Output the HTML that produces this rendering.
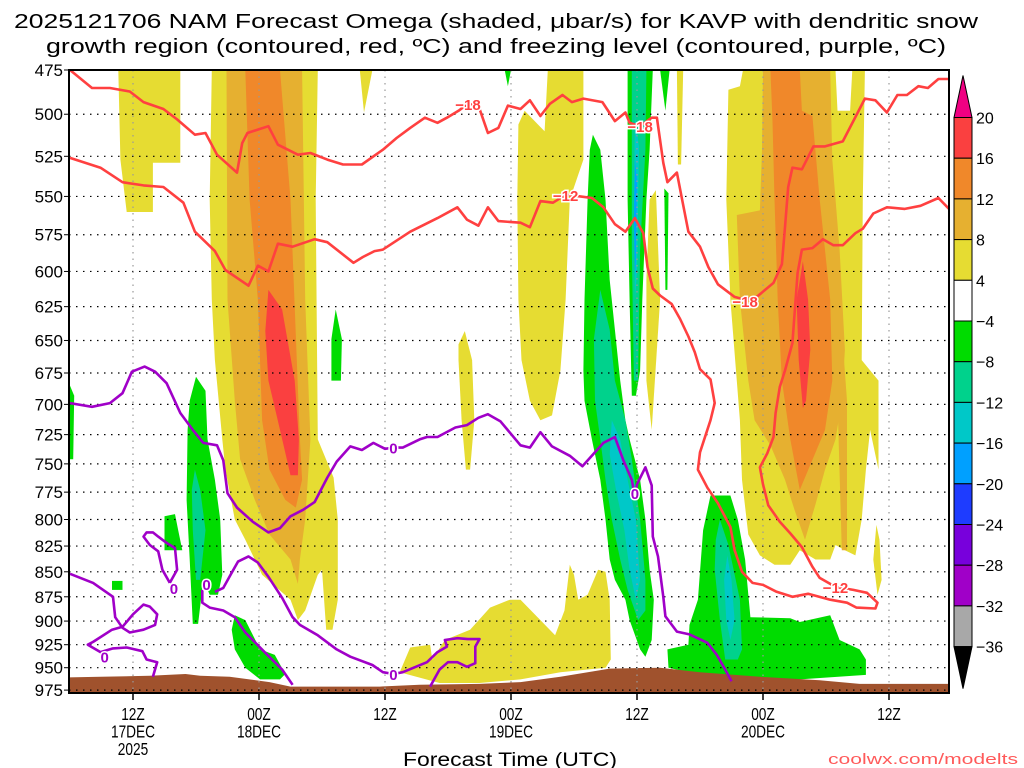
<!DOCTYPE html>
<html><head><meta charset="utf-8"><style>
body{margin:0;background:#fff;}
svg{display:block;font-family:"Liberation Sans",sans-serif;}
</style></head><body>
<svg id="chart" width="1024" height="768" viewBox="0 0 1024 768" xmlns="http://www.w3.org/2000/svg">
<defs><clipPath id="pc"><rect x="69" y="70" width="880" height="623"/></clipPath></defs>
<text x="496" y="28" font-size="20" text-anchor="middle" textLength="964" lengthAdjust="spacingAndGlyphs">2025121706 NAM Forecast Omega (shaded, μbar/s) for KAVP with dendritic snow</text>
<text x="496" y="53" font-size="20" text-anchor="middle" textLength="900" lengthAdjust="spacingAndGlyphs">growth region (contoured, red, ºC) and freezing level (contoured, purple, ºC)</text>
<g id="fills" clip-path="url(#pc)"></g>
<g id="grid"></g>
<g id="lines" clip-path="url(#pc)"></g>
<g id="axes"></g>
<g id="cbar"></g>
<text x="510" y="766" font-size="19" text-anchor="middle" textLength="214" lengthAdjust="spacingAndGlyphs">Forecast Time (UTC)</text>
<text x="1018" y="764" font-size="15" fill="#ff5a5a" text-anchor="end" textLength="190" lengthAdjust="spacingAndGlyphs">coolwx.com/modelts</text>
</svg>
<script>
// ---- data (hour since 06Z 17 Dec, pressure hPa) ----
const pressureTicks=[475,500,525,550,575,600,625,650,675,700,725,750,775,800,825,850,875,900,925,950,975];
const timeTickHours=[6,18,30,42,54,66,78];
const timeTickLabels=[["12Z","17DEC","2025"],["00Z","18DEC"],["12Z"],["00Z","19DEC"],["12Z"],["00Z","20DEC"],["12Z"]];
const cbarLabels=["20","16","12","8","4","−4","−8","−12","−16","−20","−24","−28","−32","−36"];
const cbarColors=["#fa4040","#f0882a","#e6b030","#e6dc32","#ffffff","#00dc00","#00d28c","#00c8c8","#00a0ff","#1e3cff","#7800dc","#a000c8","#a8a8a8"];
const yellowAreas=[
[[4.6,475],[10.5,475],[10.5,529],[7.9,529],[7.9,560],[5.4,560],[4.8,527]],
[[13.5,475],[23.6,475],[23.4,552],[23.6,729],[25.1,762],[25.5,800],[25.5,878],[25,909],[24.4,909],[24,848],[23.6,853],[22.4,889],[21.7,899],[21,878],[18.3,853],[16.7,819],[15.7,800],[14.8,755],[14.5,729],[13.8,665],[13.5,620],[13.3,552]],
[[27.6,475],[28.8,475],[28,499]],
[[37,653],[37.6,643],[38.3,665],[38.5,713],[38.1,755],[37.7,755],[37.3,713],[37,665]],
[[45.5,475],[48.9,475],[48.9,527],[47.6,552],[47.2,620],[46.7,673],[45.9,709],[44.8,713],[43.8,697],[43,665],[42.7,620],[42.6,552],[42.7,506],[43.3,498],[45.2,510]],
[[55.2,552],[55.8,546],[56.2,620],[55.4,721],[54.9,681],[54.9,606]],
[[57.8,475],[58.4,475],[58.2,530],[57.9,530]],
[[31.4,955],[32.4,928],[34.3,925],[34.5,941],[35.7,920],[38.1,909],[40,886],[41.9,878],[42.9,878],[44.8,899],[46.2,915],[47.1,889],[47.6,843],[48,853],[48.4,878],[49.3,873],[50.3,848],[51,850],[51.4,878],[51.5,941],[51,950],[46.7,955],[42.9,963],[39,967],[35.2,967],[33.3,961]],
[[64.1,475],[72.9,475],[73.1,498],[74.3,498],[74.5,475],[75.7,475],[75.5,552],[75.4,665],[77,681],[77,755],[76.2,721],[75.8,755],[75.4,800],[74.8,834],[73.8,829],[72.9,824],[72.4,838],[71,838],[69.5,829],[68.6,843],[67.1,843],[65.7,834],[64.6,814],[64,764],[63.8,713],[62.9,620],[62.5,552],[62.7,486],[63.8,484]],
[[76.8,805],[77.1,819],[77.3,858],[76.9,873],[76.5,838]]
];
const lightOrangeAreas=[
[[14.9,475],[22.1,475],[22.4,620],[22.9,729],[22.4,800],[21.9,838],[21.7,862],[21,838],[19,814],[17.6,782],[16.2,746],[15.7,697],[15,620]],
[[66,475],[72.4,475],[72.6,527],[73.3,585],[73.8,657],[73.5,697],[72.9,729],[71.9,755],[71,786],[70,819],[69,791],[68.1,764],[66.7,734],[65.2,713],[64.6,681],[63.8,620],[63.5,562],[65.7,559],[65.9,521]],
[[73.3,620],[74,697],[74,829],[73.5,829],[73.1,697]]
];
const orangeAreas=[
[[16.7,475],[20,475],[21,552],[21.9,729],[22.1,764],[21.5,789],[20.5,782],[19,755],[18.3,713],[17.9,620],[17.1,552]],
[[66.7,475],[69.5,475],[69.7,498],[70.7,501],[71.4,552],[72.4,620],[72.6,681],[71.9,721],[69.5,773],[68.6,729],[67.8,681],[67.4,620],[67.1,552],[66.9,504]]
];
const redAreas=[
[[18.9,613],[20.2,627],[21.4,681],[21.8,729],[21.7,760],[21,760],[20,721],[18.9,681],[18.6,643]],
[[69.8,593],[70.3,620],[70.5,657],[70.1,697],[69.8,703],[69.4,665],[69.2,620]]
];
const greenAreas=[
[[-0.2,681],[0.4,693],[0.3,746],[-0.2,746]],
[[12,678],[12.9,689],[13.1,729],[13.8,764],[14.3,800],[14.5,853],[14.1,873],[13.3,873],[12.7,858],[12.2,903],[11.7,903],[11.4,838],[11.1,782],[11.2,721],[11.4,697]],
[[9,797],[10,795],[10.3,810],[10.7,829],[9,829]],
[[4,859],[5,859],[5,868],[4,868]],
[[25.3,627],[25.9,649],[25.8,681],[24.9,681],[24.9,649]],
[[15.7,894],[16.7,899],[18.1,930],[19.5,936],[20.5,957],[20,963],[18.1,963],[16.7,950],[15.7,930],[15.4,909]],
[[41.4,475],[42,475],[41.7,484]],
[[49.8,512],[50.5,521],[51,552],[51.4,606],[51.9,642],[52.4,681],[52.9,713],[53.3,729],[54.3,764],[54.8,800],[55.2,848],[55.6,878],[55.4,920],[54.8,938],[54.3,930],[53.3,899],[52.9,878],[51.9,858],[51.4,838],[51,800],[50.5,764],[49.7,729],[49,697],[48.9,673],[49,620],[49.3,552],[49.5,521]],
[[53.1,475],[55.5,475],[55.2,521],[54.9,552],[54.5,620],[54.3,673],[53.9,693],[53.5,693],[53.3,620],[53.1,552]],
[[56.6,545],[57,548],[56.9,613],[56.7,613]],
[[56.2,475],[57.1,475],[56.7,498]],
[[64.8,896],[68.6,897],[69.5,901],[72.4,894],[73.3,920],[75.2,930],[75.8,941],[75.8,958],[69.5,963],[63.8,961],[60,958],[57,950],[56.9,930],[58.9,925],[59,904],[59.8,878],[60.3,810],[61,778],[62.9,778],[63.6,800],[64.3,838]]
];
const tealAreas=[
[[11.9,755],[12.4,773],[12.9,810],[12.4,858],[12,858],[11.7,810],[11.6,773]],
[[50.5,613],[51.4,642],[51.9,681],[52.9,713],[53.5,746],[54.3,800],[54.8,858],[54.8,889],[54.1,899],[53.1,868],[52.4,838],[51.6,800],[51,764],[50.5,729],[50,697],[49.9,649]],
[[53.5,475],[54.9,475],[54.8,521],[54.3,585],[54.1,681],[53.7,681],[53.5,585]],
[[61.9,800],[62.7,824],[63.8,878],[64,930],[63.6,941],[62.4,941],[61.9,899],[61.4,848],[61.5,819]]
];
const cyanAreas=[
[[51.6,713],[52.4,729],[53.1,764],[53.9,800],[54.3,858],[53.9,878],[53.3,848],[52.8,810],[52,773],[51.4,742]],
[[62.6,834],[63,858],[63.3,899],[62.9,920],[62.5,899],[62.3,858]],
[[53.8,500],[54.2,520],[54,600],[53.8,620],[53.7,560]]
];
const blueAreas=[
[[53.8,527],[54,540],[53.9,592],[53.8,606],[53.7,565]]
];
const terrainHours=[-1,2.9,7.6,11,12.4,15.2,19,21,29.5,33.3,39,42.9,46.7,51.4,56.2,60,65.7,71.4,75.2,85];
const terrainPressure=[961,960,959,957,959,960,966,971,971,969,968,966,960,951,950,955,960,964,968,968];
const redContours=[
[[0,475],[2.1,485],[3.8,485],[5.7,487],[7,493],[8.9,497],[10.2,503],[11.9,512],[12.9,511],[14,524],[15.9,535],[16.4,517],[16.9,511],[18.9,507],[19.8,518],[21.7,524],[22.9,523],[24.5,527],[26,530],[27.8,530],[29.8,521],[31.1,514],[32.4,508],[33.8,502],[35,505],[35.9,502],[37,498],[37.9,494],[38.9,495],[39.8,511],[40.8,508],[41.7,495],[42.9,497],[43.8,492],[44.8,501],[45.7,494],[46.9,489],[47.8,493],[48.9,491],[50.7,493],[51.9,504],[52.9,499],[53.3,505],[54.3,507],[55.4,502],[55.9,502],[56.5,529],[56.9,541],[57.8,535],[58.3,552],[58.9,573],[60,583],[60.8,597],[61.7,609],[63.3,618],[64.3,620],[65.4,618],[67,608],[67.8,595],[68.1,570],[68.4,544],[68.8,532],[69.7,533],[70.8,519],[71.9,519],[73.6,516],[74.6,504],[75.7,491],[76.7,492],[77.8,499],[78.8,489],[79.7,489],[80.8,484],[81.7,485],[82.7,480],[84,480]],
[[0,526],[2.9,532],[5,541],[7,543],[8.9,544],[10.8,554],[11.9,573],[13.8,586],[14.8,599],[17,610],[17.9,596],[18.9,600],[19.8,581],[21.2,583],[23.3,578],[24.5,580],[27,594],[27.9,590],[29,586],[29.8,585],[32.4,573],[35,564],[36.9,557],[37.8,565],[38.9,569],[39.8,557],[40.8,566],[42.9,567],[43.8,570],[44.8,553],[46,554],[47.2,549],[48.6,550],[49.7,551],[50.8,557],[51.9,568],[52.9,573],[53.8,564],[54.6,574],[55,597],[55.5,612],[56.2,617],[57.3,623],[58.1,634],[58.9,647],[59.5,659],[60,672],[61,680],[61.4,699],[61,713],[60,740],[59.8,755],[60.7,771],[61.7,785],[62.9,807],[63.3,829],[64,850],[65,861],[66,863],[67.3,870],[68.8,875],[70.3,872],[72.4,878],[74,881],[74.9,886],[76.7,887],[76.9,881],[75.9,871],[74.6,868],[72.9,865],[71.4,856],[70.7,845],[69.7,826],[68.6,813],[67.6,802],[66.5,787],[66,768],[65.7,753],[66.4,741],[67,727],[67.2,707],[67.6,686],[68.1,673],[68.8,652],[69.3,601],[69.7,585],[70.7,584],[71.7,578],[72.7,582],[73.6,582],[74.8,574],[75.5,571],[76.5,561],[77.8,557],[79.5,558],[81,556],[82.7,551],[84,560]]
];
const purpleContours=[
[[0,699],[2.1,702],[3.8,699],[5,691],[5.9,674],[7.1,670],[8.1,674],[9.2,683],[10.5,707],[11.7,721],[12.7,732],[14,734],[14.6,747],[15,776],[15.9,789],[17.4,802],[18.9,812],[20,808],[21,797],[22.2,791],[23.3,784],[24.5,762],[25.4,748],[26.7,735],[27.8,738],[28.9,732],[30,737],[30.8,736],[31.7,736],[33.3,729],[34,727],[35,727],[36.7,719],[37.8,717],[38.9,711],[39.8,708],[41,714],[42.9,734],[43.8,736],[44.8,723],[45.9,735],[47.6,743],[48.8,752],[50.8,732],[51.9,727],[52.7,747],[53.5,764],[53.8,779],[54,768],[54.8,753],[55.4,769],[55.5,816],[56,835],[56.5,875],[56.7,895],[57.8,911],[59,914],[60.7,923],[61.6,936],[62.4,952],[63,965]],
[[0,852],[2.2,861],[4.1,875],[4.3,896],[5,907],[5.7,912],[7,909],[8.1,904],[8.3,893],[7.6,885],[7,883],[6,893],[5,906],[4,909],[2.2,922],[1.7,925],[2.9,933],[4.1,929],[5.4,928],[6.9,932],[7.3,941],[8.3,944],[7.9,960]],
[[9.5,861],[10.2,848],[10,827],[9.2,822],[8.4,816],[7.9,812],[7.3,812],[7,816],[7.6,824],[8.4,830],[8.8,848],[9.5,861]],
[[12.6,868],[12.6,881],[13.3,886],[14.6,889],[15.7,896],[16.7,912],[18.8,936],[20.2,952],[21.2,969]],
[[13.8,870],[14.6,866],[15.4,851],[16,840],[17,835],[17.9,841],[18.9,855],[20.2,876],[21.2,896],[21.9,904],[23.6,915],[25.4,930],[26.7,938],[28.8,947],[29.8,955],[30.8,957],[31.7,955],[34,944],[35,933],[35.9,927],[35.7,920],[36.9,918],[37.9,919],[39,919],[38.6,927],[38.6,945],[37.8,949],[36.9,944],[36,944],[35.2,952],[34.3,971]]
];
const redLabelPos=[[37.9,494],[54.3,507],[64.3,621],[47.2,549],[72.9,865]];
const redLabelText=["−18","−18","−18","−12","−12"];
const purpleLabelPos=[[30.8,736],[53.8,776],[9.9,866],[13,862],[30.8,957],[3.3,938]];

// ---- axis functions ----
const X0=70, PXH=10.5, Y0=70, YK=862.3;
function xS(h){return X0+h*PXH;}
function yS(p){return Y0+YK*Math.log(p/475);}
const NS="http://www.w3.org/2000/svg";
function mk(tag,attrs,parent){const e=document.createElementNS(NS,tag);for(const k in attrs)e.setAttribute(k,attrs[k]);parent.appendChild(e);return e;}
const fills=document.getElementById('fills'),grid=document.getElementById('grid'),lines=document.getElementById('lines'),axes=document.getElementById('axes'),cbar=document.getElementById('cbar');
function pts(a){return a.map(q=>xS(q[0]).toFixed(1)+","+yS(q[1]).toFixed(1)).join(" ");}
function drawAreas(list,color,name){
  list.forEach(a=>{
    const e=mk('polygon',{points:pts(a),fill:color},fills);
    
    
  });
}
drawAreas(yellowAreas,"#e6dc32","omega-4-8");
drawAreas(lightOrangeAreas,"#e6b030","omega-8-12");
drawAreas(orangeAreas,"#f0882a","omega-12-16");
drawAreas(redAreas,"#fa4040","omega-16-20");
drawAreas(greenAreas,"#00dc00","omega-neg4-neg8");
drawAreas(tealAreas,"#00d28c","omega-neg8-neg12");
drawAreas(cyanAreas,"#00c8c8","omega-neg12-neg16");
drawAreas(blueAreas,"#00a0ff","omega-neg16-neg20");
// terrain
{
  let tp=terrainHours.map((h,i)=>[h,terrainPressure[i]]);
  tp.push([85,1000]);tp.push([-1,1000]);
  const e=mk('polygon',{points:pts(tp),fill:"#a0522d"},fills);
  
  
}
// grid
pressureTicks.forEach(p=>{
  const y=yS(p);
  const g=mk('line',{x1:69,x2:949,y1:y,y2:y,stroke:"#000","stroke-width":1.2,"stroke-dasharray":"1.5 5.5"},grid);
  
  
  const t=mk('text',{x:63,y:y+6,"font-size":17,"text-anchor":"end"},axes);
  t.textContent=p;
  
  
  mk('line',{x1:64,x2:69,y1:y,y2:y,stroke:"#000","stroke-width":1},axes);
});
timeTickHours.forEach((h,i)=>{
  const x=xS(h);
  const g=mk('line',{x1:x,x2:x,y1:70,y2:693,stroke:"#999","stroke-width":1.2,"stroke-dasharray":"1.5 5"},grid);
  
  
  mk('line',{x1:x,x2:x,y1:693,y2:700,stroke:"#000","stroke-width":1.5},axes);
  timeTickLabels[i].forEach((s,j)=>{
    const t=mk('text',{x:x,y:720+j*17.5,"font-size":18,"text-anchor":"middle",transform:`translate(${x},0) scale(0.76,1) translate(${-x},0)`},axes);
    t.textContent=s;
    
    
  });
});
// contours
function drawLines(list,color,name){
  list.forEach(a=>{
    const e=mk('polyline',{points:pts(a),fill:"none",stroke:color,"stroke-width":2.6,"stroke-linejoin":"round"},lines);
    
    
  });
}
drawLines(redContours,"#ff4040","dgz-contour");
drawLines(purpleContours,"#a000c8","freezing-level-contour");
redLabelPos.forEach((q,i)=>{
  const t=mk('text',{x:xS(q[0]),y:yS(q[1])+6,"font-size":15,"font-weight":"bold","text-anchor":"middle",fill:"#ff4040",stroke:"#fff","stroke-width":3,"paint-order":"stroke"},lines);
  t.textContent=redLabelText[i];
  
  
});
purpleLabelPos.forEach(q=>{
  const t=mk('text',{x:xS(q[0]),y:yS(q[1])+6,"font-size":15,"font-weight":"bold","text-anchor":"middle",fill:"#a000c8",stroke:"#fff","stroke-width":3,"paint-order":"stroke"},lines);
  t.textContent="0";
  
  
});
// frame
{const f=mk('rect',{x:69,y:70,width:880,height:623,fill:"none",stroke:"#000","stroke-width":2},axes);

}
// colorbar
{
  const cx=954,cw=18,top=117.5,step=40.7;
  const tri=mk('polygon',{points:`${cx},${top} ${cx+cw},${top} ${cx+cw/2},${top-42}`,fill:"#f00082",stroke:"#000","stroke-width":1},cbar);
  
  
  cbarColors.forEach((c,i)=>{
    const r=mk('rect',{x:cx,y:top+i*step,width:cw,height:step,fill:c,stroke:"#000","stroke-width":1},cbar);
    
    
  });
  const yb=top+cbarColors.length*step;
  const tri2=mk('polygon',{points:`${cx},${yb} ${cx+cw},${yb} ${cx+cw/2},${yb+42}`,fill:"#000",stroke:"#000","stroke-width":1},cbar);
  
  
  cbarLabels.forEach((s,i)=>{
    const t=mk('text',{x:976,y:top+i*step+6,"font-size":16},cbar);
    t.textContent=s;
    
    
  });
}
</script>
</body></html>
